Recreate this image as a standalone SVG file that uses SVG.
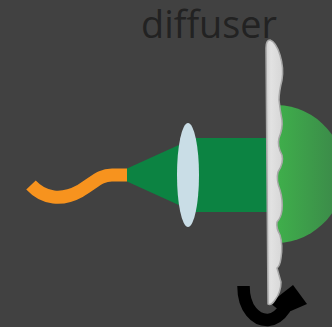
<svg xmlns="http://www.w3.org/2000/svg" width="332" height="327" viewBox="0 0 332 327">
  <defs>
    <linearGradient id="glow" x1="275" y1="0" x2="345" y2="0" gradientUnits="userSpaceOnUse">
      <stop offset="0" stop-color="#3fb04b"/>
      <stop offset="1" stop-color="#3b8549"/>
    </linearGradient>
    <linearGradient id="glass" x1="0" y1="0" x2="1" y2="0">
      <stop offset="0" stop-color="#cfcfcf"/>
      <stop offset="0.3" stop-color="#e2e2e2"/>
      <stop offset="1" stop-color="#d6d6d6"/>
    </linearGradient>
  </defs>
  <style>
    .beam { fill: #0c8342; }
    .lens { fill: #c9dde6; }
    .fiber { fill: none; stroke: #f7931e; stroke-width: 13; }
    .label { font-family: "Open Sans", "DejaVu Sans", sans-serif; font-size: 38px; fill: #222222; }
    .rot { fill: none; stroke: #000; stroke-width: 12.5; }
  </style>

  <rect width="332" height="327" fill="#414141"/>

  <g id="label-diffuser">
    <text class="label" x="141" y="38" textLength="136" lengthAdjust="spacingAndGlyphs">diffuser</text>
  </g>

  <g id="output-light">
    <path d="M 270 105.2 A 69 69 0 1 1 270 242.8 Z" fill="url(#glow)"/>
  </g>

  <g id="collimated-beam">
    <rect class="beam" x="190" y="138" width="78" height="74"/>
  </g>

  <g id="fiber">
    <path class="fiber" d="M 31 185 C 44 199 62 201 80 191 C 95 182 100 175 112 175 L 127 175"/>
  </g>

  <g id="divergent-cone">
    <polygon class="beam" points="127,168.5 192,139 192,211 127,181.5"/>
  </g>

  <g id="lens">
    <ellipse class="lens" cx="188" cy="175" rx="11" ry="52"/>
  </g>

  <g id="connectors">
    <path class="rot" d="M 243.5 286 C 243.5 309 256 320.5 268 320 C 276 319.5 281 314 285 308"/>
    <polygon points="270,303 293,285 307,304 284,314" fill="#000"/>
  </g>

  <g id="diffuser">
    <path d="M 266 48 Q 266 40 270 40 Q 276 42 280 55 Q 284 68 282 80 Q 279 92 279 100 Q 280 110 282 120 Q 283 128 279 138 Q 277 146 282 155 Q 284 163 278 172 Q 276 180 280 190 Q 283 200 282 210 Q 281 218 277 222 Q 276 228 280 235 Q 283 245 281 258 Q 280 266 277 268 Q 279 275 281 282 Q 281 292 275 300 Q 271 306 268 304 L 266 48 Z" fill="url(#glass)" stroke="#a8a8a8" stroke-width="1.5"/>
  </g>
</svg>
